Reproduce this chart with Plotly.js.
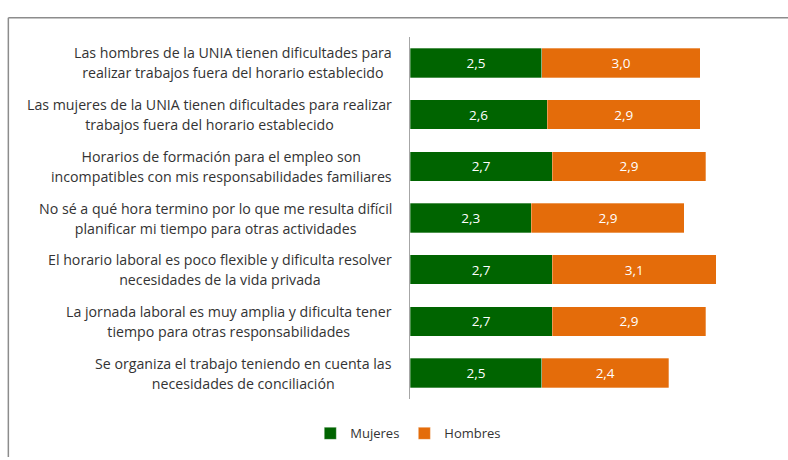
<!DOCTYPE html>
<html>
<head>
<meta charset="utf-8">
<script src="https://cdn.plot.ly/plotly-3.0.1.min.js"></script>
<style>
  html, body { margin: 0; padding: 0; background: #ffffff; }
  #chart { width: 788px; height: 460px; }
</style>
</head>
<body>
<div id="chart"></div>
<script>
// ---- data ----
const categories = [
  "Las hombres de la UNIA tienen dificultades para<br>realizar trabajos fuera del horario establecido",
  "Las mujeres de la UNIA tienen dificultades para realizar<br>trabajos fuera del horario establecido",
  "Horarios de formación para el empleo son<br>incompatibles con mis responsabilidades familiares",
  "No sé a qué hora termino por lo que me resulta difícil<br>planificar mi tiempo para otras actividades",
  "El horario laboral es poco flexible y dificulta resolver<br>necesidades de la vida privada",
  "La jornada laboral es muy amplia y dificulta tener<br>tiempo para otras responsabilidades",
  "Se organiza el trabajo teniendo en cuenta las<br>necesidades de conciliación"
];
const mujeres = [2.5, 2.6, 2.7, 2.3, 2.7, 2.7, 2.5];
const hombres = [3.0, 2.9, 2.9, 2.9, 3.1, 2.9, 2.4];
const seriesNames = ["Mujeres", "Hombres"];

const GREEN = "#006400";
const ORANGE = "#E46C0A";
const FONT = "'Open Sans', 'Noto Sans', sans-serif";

const common = {
  type: "bar",
  orientation: "h",
  y: categories,
  texttemplate: "%{x:.1f}",
  textposition: "inside",
  insidetextanchor: "middle",
  textfont: { family: FONT, size: 13.5, color: "#ffffff" },
  constraintext: "none",
  hoverinfo: "skip"
};

const traces = [
  Object.assign({}, common, {
    name: seriesNames[0], x: mujeres,
    marker: { color: GREEN, line: { color: "rgba(255,255,255,0.5)", width: 0.6 } }
  }),
  Object.assign({}, common, {
    name: seriesNames[1], x: hombres,
    marker: { color: ORANGE, line: { color: "rgba(255,255,255,0.5)", width: 0.6 } }
  })
];

// category labels drawn as centred two-line text
const annotations = categories.map(c => ({
  xref: "paper", yref: "y",
  x: -0.047, y: c,
  xanchor: "right", yanchor: "middle",
  align: "center",
  showarrow: false,
  font: { family: FONT, size: 15, color: "#333333" },
  text: c.split("<br>").map(s => '<span style="font-size:14.2px">' + s + '</span>').join("<br>")
}));

// outer chart frame (top & left edges visible in the reference)
const shapes = [
  { type: "line", xref: "paper", yref: "paper", x0: -1.171, x1: 1.11, y0: 1.053, y1: 1.053,
    line: { color: "#8c8c8c", width: 1.5 } },
  { type: "line", xref: "paper", yref: "paper", x0: -1.171, x1: -1.171, y0: 1.053, y1: -0.16,
    line: { color: "#8c8c8c", width: 1.5 } }
];

const layout = {
  width: 788, height: 460,
  margin: { l: 410, r: 35, t: 37, b: 55, pad: 0 },
  paper_bgcolor: "#ffffff", plot_bgcolor: "#ffffff",
  barmode: "stack",
  bargap: 0.43,
  separators: ",.",
  font: { family: FONT, size: 13, color: "#333333" },
  xaxis: {
    range: [0, 6.5], visible: false, showgrid: false, zeroline: false, fixedrange: true
  },
  yaxis: {
    type: "category",
    autorange: "reversed",
    showticklabels: false,
    ticks: "",
    showgrid: false, zeroline: false,
    showline: true, linecolor: "#a6a6a6", linewidth: 1.5,
    fixedrange: true
  },
  showlegend: true,
  legend: {
    orientation: "h",
    x: -0.005, xanchor: "center",
    y: -0.095, yanchor: "middle",
    font: { family: FONT, size: 13, color: "#333333" },
    itemwidth: 30,
    traceorder: "normal"
  },
  annotations: annotations,
  shapes: shapes
};

Plotly.newPlot("chart", traces, layout, { displayModeBar: false, staticPlot: true });
</script>
</body>
</html>
